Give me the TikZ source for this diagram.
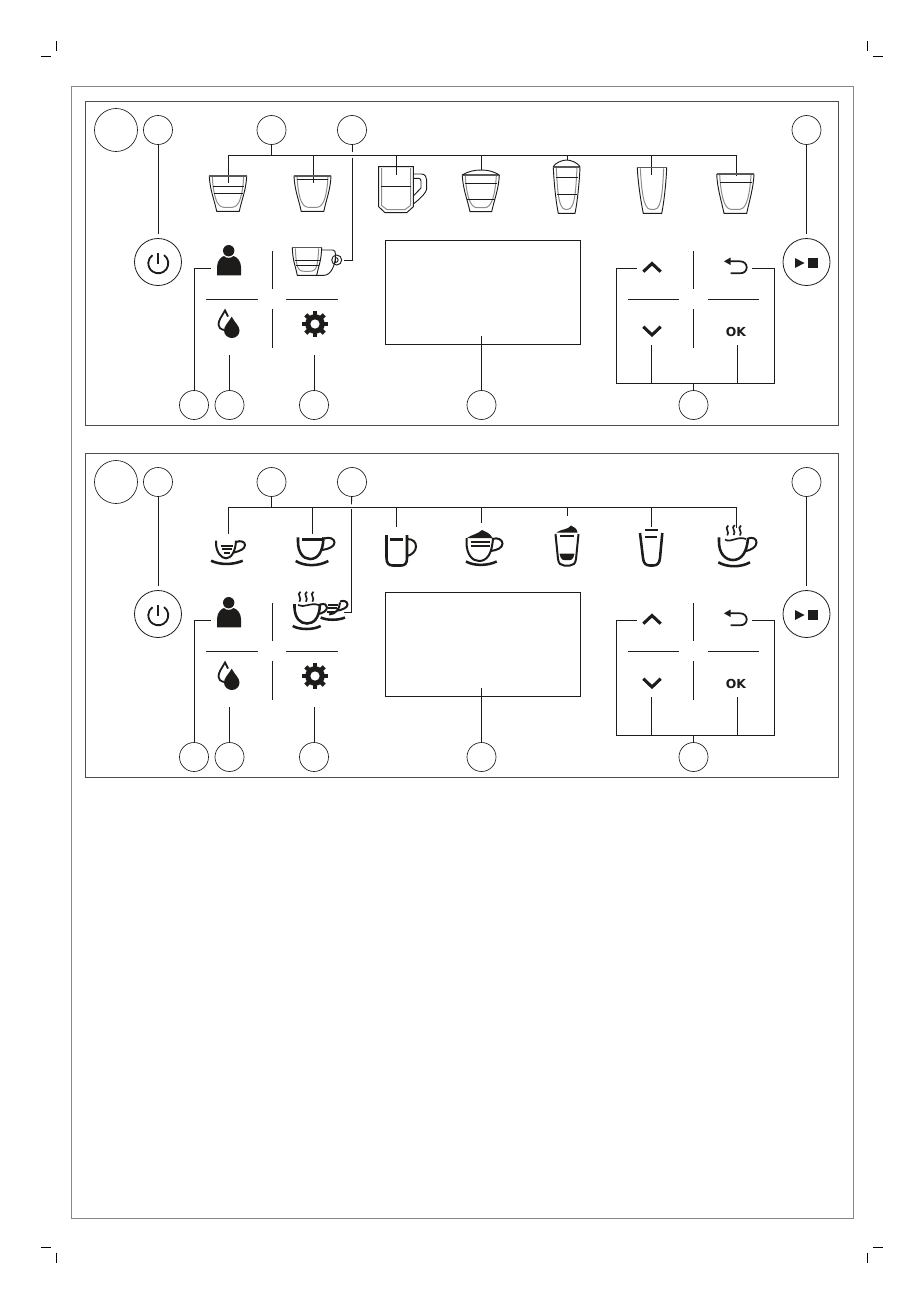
\documentclass[tikz,border=0pt]{standalone}
\usepackage{fontspec}
\newfontfamily\okfont[BoldFont={DejaVu Sans Bold}]{DejaVu Sans}
\usetikzlibrary{positioning}
\definecolor{inkdark}{RGB}{30,28,26}
\definecolor{framegray}{RGB}{135,135,135}
\definecolor{wallgray}{RGB}{140,140,140}
\tikzset{every picture/.style={line width=0.6pt}}
\tikzset{
callout/.style={circle,draw=inkdark,line width=0.5pt,minimum size=21.75pt,inner sep=0pt},
bigcallout/.style={circle,draw=inkdark,line width=0.5pt,minimum size=32.25pt,inner sep=0pt},
roundkey/.style={circle,draw=inkdark,line width=0.6pt,minimum size=35.25pt,inner sep=0pt},
wire/.style={draw=inkdark,line width=0.65pt},
iconline/.style={draw=inkdark,line width=0.7pt},
wallline/.style={draw=wallgray,line width=0.75pt},
rimline/.style={draw=black!65,line width=1.2pt},
boldline/.style={draw=inkdark,line width=1.9pt},
midline/.style={draw=inkdark,line width=1.5pt},
steamstroke/.style={draw=inkdark,line width=1.25pt},
boldfill/.style={fill=inkdark,draw=none},
chevron/.style={draw=inkdark,line width=2.3pt,miter limit=4},
cropmark/.style={draw=black,line width=0.75pt}
}
% glass: top left, top right, bottom left, bottom right, top y, bottom y
\newcommand{\glassbody}[6]{
\draw[wallline] (#1+3,#5+1) .. controls (#1+4,#5+18) and (#3-0.5,#6-4) .. (#3+7,#6-4) -- (#4-7,#6-4) .. controls (#4+0.5,#6-4) and (#2-4,#5+18) .. (#2-3,#5+1);
\draw[iconline] (#1,#5) .. controls (#1+0.5,#5+14) and (#3-2.5,#6-12) .. (#3,#6) -- (#4,#6) .. controls (#4+2.5,#6-12) and (#2-0.5,#5+14) .. (#2,#5);
\draw[rimline] (#1,#5) -- (#2,#5);
}
% steam: x, top y
\newcommand{\steamline}[2]{
\draw[steamstroke] (#1+1,#2) .. controls (#1-3.5,#2+3) and (#1+3,#2+6) .. (#1,#2+10);
}
% all that both panels share; #1 holds the drop lines of the row of cups
\newcommand{\panelbase}[1]{
%Panel frame
\node (frame) [draw=black!70,line width=0.6pt,minimum width=564.75pt,minimum height=243pt,inner sep=0pt] at (461.5,263) {};
%Callouts
\node (big) [bigcallout] at (116,130) {};
\node (c1) [callout] at (158,130) {};
\node (c2) [callout] at (271.5,130) {};
\node (c3) [callout] at (352,130) {};
\node (c4) [callout] at (806.5,130) {};
\node (c5) [callout] at (194,405) {};
\node (c6) [callout] at (229.5,405) {};
\node (c7) [callout] at (314,405) {};
\node (c8) [callout] at (481.5,405) {};
\node (c9) [callout] at (693.5,405) {};
%Round keys
\node (power) [roundkey] at (158,262) {};
\node (play) [roundkey] at (806.5,262) {};
\draw[wire,shorten >=3.4pt] (c1) -- (power);
\draw[wire,shorten >=3.4pt] (c4) -- (play);
%Screen
\node (screen) [draw=inkdark,line width=0.65pt,minimum width=146.25pt,minimum height=78pt,inner sep=0pt] at (482.8,292.3) {};
\coordinate (screenin) at (481.5,336);
\draw[wire] (screenin) -- (c8);
%Row of cups
\coordinate (busl) at (228.5,155);
\coordinate (busr) at (736.5,155);
\coordinate (busc) at (271.5,155);
\draw[wire] (busl) -- (busr);
\draw[wire] (c2) -- (busc);
\foreach \i/\x/\y in {#1} {
\coordinate (top\i) at (\x,155);
\coordinate (cup\i) at (\x,\y);
\draw[wire] (top\i) -- (cup\i);
}
%Left keys
\coordinate (personin) at (211,268.3);
\coordinate (waterin) at (229.5,355);
\coordinate (gearin) at (314,355);
\draw[wire] (c5) |- (personin);
\draw[wire] (waterin) -- (c6);
\draw[wire] (gearin) -- (c7);
%Crosses
\foreach \x in {272.3,693.5} {
\draw[wire] (\x,251) -- (\x,289.3);
\draw[wire] (\x,309) -- (\x,347.7);
\draw[wire] (\x-66,299.3) -- (\x-14.6,299.3);
\draw[wire] (\x+14,299.3) -- (\x+65.4,299.3);
}
%Right keys
\coordinate (upin) at (637,268.3);
\coordinate (backin) at (752,268.3);
\coordinate (downin) at (651.5,345);
\coordinate (okin) at (737.3,345);
\coordinate (brl) at (616.3,383.3);
\coordinate (brr) at (774,383.3);
\coordinate (brd) at (651.5,383.3);
\coordinate (bro) at (737.3,383.3);
\coordinate (brc) at (693.5,383.3);
\draw[wire] (upin) -| (brl) -- (brr) |- (backin);
\draw[wire] (downin) -- (brd);
\draw[wire] (okin) -- (bro);
\draw[wire] (brc) -- (c9);
%Power symbol
\draw[draw=inkdark,line width=1.35pt] ([shift={(-55:10)}]158.3,263.3) arc (-55:235:10);
\draw[draw=inkdark,line width=1.35pt] (158.3,253) -- (158.3,263.5);
%Play and stop
\fill[inkdark] (795,258) -- (804.5,263) -- (795,268) -- cycle;
\fill[inkdark] (808.3,258.3) rectangle (818,267.8);
%Person
\fill[inkdark] (228.7,250.7) circle (5.7);
\path[boldfill] (217,275.3) -- (217,267) .. controls (217,260) and (222,256.5) .. (224,256) .. controls (226,258.5) and (231,258.5) .. (233.5,256) .. controls (237,257) and (241,261) .. (241,267) -- (241,275.3) -- cycle;
%Drops
\draw[draw=inkdark,line width=1.35pt] (228,316.5) -- (225,310.5) .. controls (222,316) and (218.5,320) .. (218.5,324.5) .. controls (218.5,327) and (220,329) .. (224,330);
\path[boldfill] (231.7,316.7) .. controls (228,323) and (224,326) .. (224,330.5) .. controls (224,335) and (228,338) .. (231.7,338) .. controls (236,338) and (239.5,335) .. (239.5,330.5) .. controls (239.5,326) and (235,323) .. (231.7,316.7) -- cycle;
%Gear
\begin{scope}[shift={(315,324)}]
\foreach \a in {0,45,...,315} {
\draw[draw=inkdark,line width=3.3pt] (0,0) -- (\a:13);
}
\fill[inkdark] (0,0) circle (9.8);
\fill[white] (0,0) circle (4.6);
\end{scope}
%Arrows
\draw[chevron] (643.3,271.7) -- (652,263.5) -- (660.7,271.7);
\draw[chevron] (643.3,326.7) -- (652,335) -- (660.7,326.7);
\draw[draw=inkdark,line width=1.3pt] (729,261.3) -- (740,261.3) .. controls (744,261.3) and (746.7,264) .. (746.7,267.3) .. controls (746.7,271) and (744,273.3) .. (740,273.3) -- (730.7,273.3);
\fill[inkdark] (724,261.3) -- (730.5,257.5) -- (730.5,265) -- cycle;
\node (oktext) [text=inkdark,inner sep=0pt] at (736,331.7) {\okfont\bfseries\fontsize{9.3pt}{9.3pt}\selectfont OK};
}
\begin{document}
\begin{tikzpicture}[x=0.75pt,y=0.75pt,yscale=-1,xscale=1]
\useasboundingbox (0,0) rectangle (924,1304);

%Page frame
\node (page) [draw=framegray,line width=0.6pt,minimum width=586.5pt,minimum height=849pt,inner sep=0pt] at (462,652) {};
%Crop marks
\draw[cropmark] (41,56) -- (51,56);
\draw[cropmark] (56.5,41) -- (56.5,51);
\draw[cropmark] (873,56) -- (883,56);
\draw[cropmark] (867.5,41) -- (867.5,51);
\draw[cropmark] (41,1247.5) -- (51,1247.5);
\draw[cropmark] (56.5,1252.5) -- (56.5,1262.5);
\draw[cropmark] (873,1247.5) -- (883,1247.5);
\draw[cropmark] (867.5,1252.5) -- (867.5,1262.5);

%Upper panel
\begin{scope}[name prefix=a-]
\panelbase{1/228.5/182.7,2/313.5/182.7,3/396.7/175,4/481.5/170,5/567/160,6/651.5/175,7/736.5/176}
\coordinate (c3stop) at (352,152);
\coordinate (c3on) at (352,157.5);
\coordinate (c3end) at (344,260);
\draw[wire] (c3) -- (c3stop);
\draw[wire] (c3on) |- (c3end);
%Cups
\glassbody{209.3}{246.7}{216.7}{239.3}{175.7}{211.3}
\draw[iconline] (212.5,186) -- (243.5,186);
\draw[iconline] (213.5,193.3) -- (242.5,193.3);
\glassbody{294}{331}{301.2}{323.8}{175.7}{211.3}
\draw[iconline] (297,179.5) -- (328,179.5);
%Mug
\draw[wallline] (381.5,168) -- (381.5,205.5) -- (387,209.5) -- (405,209.5) -- (410.5,205.5) -- (410.5,168);
\draw[iconline] (413.3,166.7) -- (378.7,166.7) -- (378.7,206.7) -- (385,212.7) -- (406.7,212.7) -- (413.3,206.7) -- cycle;
\draw[iconline] (381,186) -- (411,186);
\draw[iconline] (413.3,174) -- (421.5,174) .. controls (425,174) and (426.7,177) .. (426.7,180) -- (426.7,189) .. controls (426.7,192) and (420,199) .. (413.3,204);
\draw[iconline] (413.3,178.3) -- (418.5,178.3) .. controls (420,178.3) and (421,179.5) .. (421,181) -- (421,188) -- (413.3,196);
\glassbody{462.3}{499.3}{470}{491.7}{175}{211.7}
\draw[iconline] (462.3,175) .. controls (468,171.5) and (474,170) .. (481,170) .. controls (488,170) and (494,171.5) .. (499.3,175);
\draw[iconline] (465,183.3) -- (497,183.3);
\draw[iconline] (467,199.3) -- (494.5,199.3);
\glassbody{553.3}{580}{558.3}{575}{166.7}{213.3}
\draw[iconline] (553.3,166.7) .. controls (555,163) and (562,160) .. (566.7,160) .. controls (571,160) and (578,163) .. (580,166.7);
\draw[iconline] (556,177.3) -- (577.5,177.3);
\draw[iconline] (557,194.3) -- (576.5,194.3);
\glassbody{637.3}{666.7}{643.3}{661.7}{167.3}{213.3}
\glassbody{716.7}{754}{724}{746.7}{174}{213.3}
\draw[iconline] (719.5,182.3) -- (751.5,182.3);
%Double espresso
\draw[iconline] (321.7,250) -- (333,250) .. controls (335,250) and (335.5,252) .. (335.5,255) .. controls (335.5,265) and (331,275.3) .. (324,275.3) -- (316,275.3);
\draw[iconline] (336.7,260) circle (5);
\draw[iconline] (335.5,257.5) .. controls (339,257.5) and (339,262.5) .. (335.5,262.5) -- cycle;
\glassbody{292.3}{321.7}{297.3}{316.7}{247.3}{275.3}
\draw[iconline] (295,260) -- (319.5,260);
\draw[iconline] (296,265) -- (318.5,265);
\end{scope}

%Lower panel
\begin{scope}[shift={(0,352)},name prefix=b-]
\panelbase{1/228.5/182.3,2/312.5/182.3,3/396.7/174.7,4/481.5/171.3,5/567/163.7,6/651.5/174.7,7/736.5/176.3}
\coordinate (c3stop) at (351.5,152.3);
\coordinate (c3on) at (351.5,157.3);
\coordinate (c3end) at (344.3,260.3);
\draw[wire] (c3) -- (c3stop);
\draw[wire] (c3on) |- (c3end);
%Small cup
\draw[midline] (216,188.7) -- (216,192) .. controls (216.5,200) and (221,206.3) .. (226,206.3) .. controls (231,206.3) and (235.5,200) .. (236,188.7);
\draw[midline] (236,190) .. controls (241,188) and (245,190) .. (245,193) .. controls (245,197) and (240,199) .. (234,200.5);
\draw[midline] (221,193.7) -- (233,193.7);
\draw[midline] (222,197.3) -- (232,197.3);
\draw[midline] (224,200.8) -- (230,200.8);
\draw[boldline] (211,208.7) .. controls (220,213) and (233,213) .. (242.7,208.7);
%Big cup
\draw[boldline] (298,185.3) -- (298,190) .. controls (298,200) and (303,207) .. (310,207) .. controls (318,207) and (323,200) .. (323.5,185.3);
\draw[boldline] (301.7,187.3) -- (322,187.3);
\draw[midline] (324,186.5) .. controls (330,184.5) and (334.5,187) .. (334.5,190.5) .. controls (334.5,194.5) and (329,197) .. (322,198);
\draw[boldline] (295.7,209) .. controls (305,214.5) and (318,214.5) .. (328.3,209);
%Mug
\draw[boldline] (386.5,183) -- (386.5,206) .. controls (386.5,211.5) and (389,213.5) .. (393,213.5) -- (401,213.5) .. controls (405,213.5) and (407,211.5) .. (407,206) -- (407,183);
\draw[boldline] (390,187.3) -- (403.3,187.3);
\draw[midline] (407,187) .. controls (413,187) and (416,190) .. (416,194.5) .. controls (416,199) and (412,203) .. (407,204);
%Foam cup
\path[boldfill] (467,186) .. controls (472,182.5) and (478,182) .. (482,178) .. controls (486,180) and (490,181) .. (492.5,186) -- cycle;
\draw[midline] (466.5,186) -- (466.5,192) .. controls (467,202) and (472,209) .. (479,209) .. controls (487,209) and (492,202) .. (493,186);
\draw[midline] (471,190) -- (490,190);
\draw[midline] (471,194) -- (490,194);
\draw[midline] (492,187) .. controls (498,185) and (502.5,188) .. (502.5,191.5) .. controls (502.5,195.5) and (498,198) .. (491,199);
\draw[boldline] (466,209.5) .. controls (474,214) and (487,214) .. (496.7,209.5);
%Latte glass
\path[boldfill] (556.5,180.5) .. controls (562,176.5) and (568,178) .. (571,173.5) .. controls (574,175) and (577,176.5) .. (577.5,180.5) -- cycle;
\draw[midline] (555.5,182) -- (558,207) .. controls (558.5,211.5) and (561,213.5) .. (564,213.5) -- (570,213.5) .. controls (573,213.5) and (575.5,211.5) .. (576,207) -- (578.5,182);
\draw[midline] (560,184.3) -- (574,184.3);
\path[boldfill] (559.5,201.7) -- (574.5,201.7) -- (573.5,205) .. controls (573,207.5) and (571,208.2) .. (569,208.2) -- (565,208.2) .. controls (563,208.2) and (561,207.5) .. (560.5,205) -- cycle;
%Milk glass
\draw[boldline] (645,178) -- (658,178);
\draw[boldline] (640,181) -- (643,206) .. controls (643.5,211.5) and (646,213.5) .. (650,213.5) -- (653,213.5) .. controls (657,213.5) and (659.5,211.5) .. (660,206) -- (662.3,181);
\draw[midline] (645,184.7) -- (657,184.7);
%Steaming cup
\steamline{727.3}{173.5}
\steamline{733.7}{173}
\steamline{740}{173.5}
\draw[boldline] (719,185.3) -- (719,190) .. controls (719,201) and (725,208) .. (733,208) .. controls (741,208) and (747,201) .. (748,186);
\draw[steamstroke] (725,187.5) .. controls (731,191.5) and (737,183.5) .. (746,187);
\draw[midline] (748,186.5) .. controls (753,184.5) and (756.5,187) .. (756.5,190.5) .. controls (756.5,195) and (751,198) .. (746,199);
\draw[boldline] (718.3,210.3) .. controls (727,215.5) and (741,215.5) .. (750,210.3);
%Double cups
\steamline{299.5}{239.7}
\steamline{306}{239.7}
\steamline{312.5}{239.7}
\draw[boldline] (294.5,252) -- (294.5,256) .. controls (295,266) and (300,271.5) .. (307,271.5) .. controls (314,271.5) and (319.5,266) .. (320,252);
\draw[steamstroke] (298,253) .. controls (304,256.5) and (310,250) .. (319,253);
\draw[midline] (320,252.5) .. controls (325,251) and (327,253) .. (327,255.5) .. controls (327,259) and (322,261.5) .. (318,262);
\draw[boldline] (292.7,274) .. controls (300,278) and (313,278) .. (320.7,274);
\draw[midline] (328,253) -- (338,253);
\draw[midline] (327.5,256.3) -- (336.5,256.3);
\draw[midline] (326.5,259.5) -- (334.5,259.5);
\draw[midline] (340,250.5) .. controls (339.5,257) and (336,262) .. (329,262.5);
\draw[midline] (340,249.5) .. controls (344,248) and (347.5,249.5) .. (347.5,252.5) .. controls (347.5,255.5) and (343,257.5) .. (338,258.5);
\draw[boldline] (320.7,265.5) .. controls (327,268.5) and (338,268.5) .. (345,265.5);
\end{scope}
\end{tikzpicture}
\end{document}
